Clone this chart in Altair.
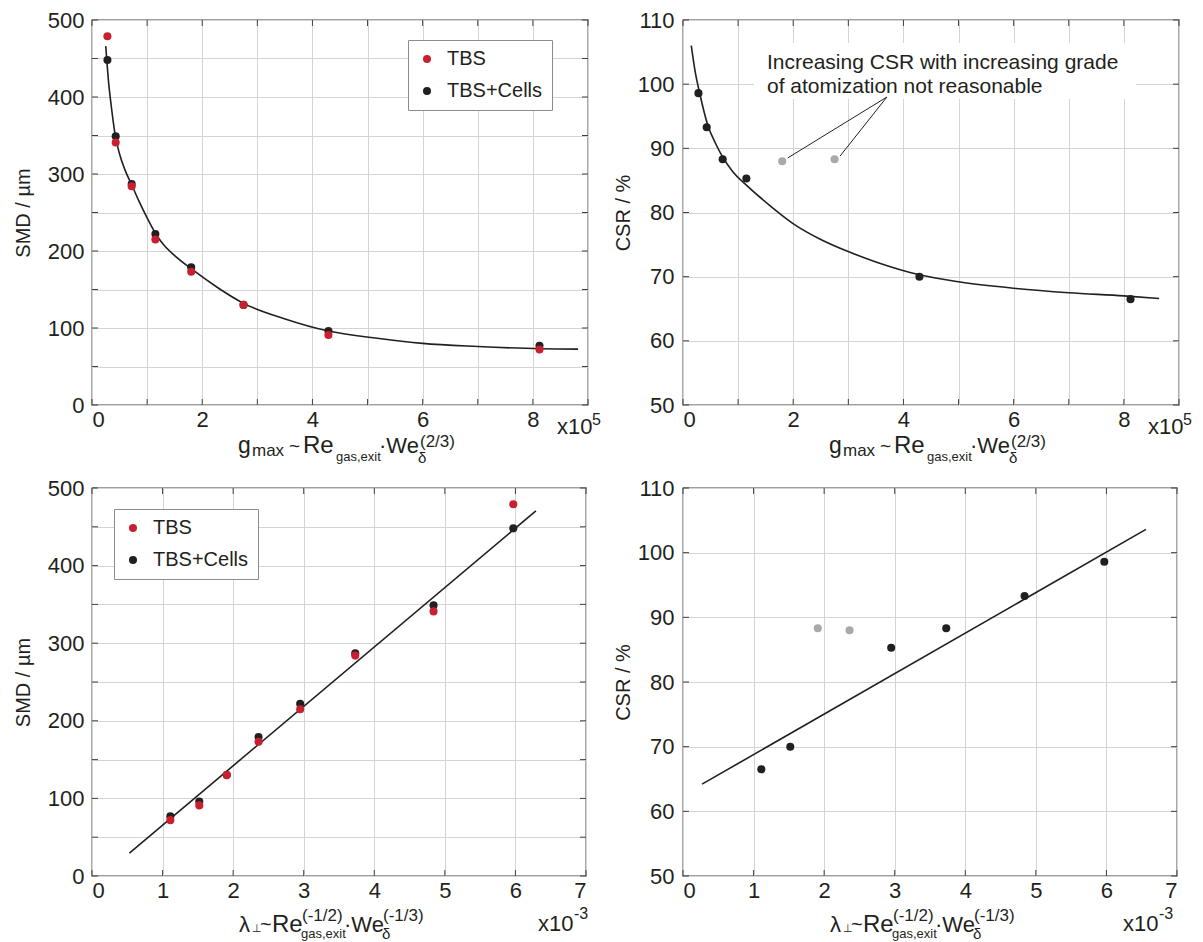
import altair as alt
import pandas as pd

# ---------------- data ----------------
g_vals = [0.28, 0.43, 0.72, 1.15, 1.80, 2.75, 4.29, 8.12]          # g_max  (x1e5)
lam_vals = [5.97, 4.84, 3.73, 2.95, 2.36, 1.91, 1.52, 1.11]        # lambda (x1e-3)
smd_tbs = [479, 341, 284, 215, 173, 130, 91, 72]                   # SMD / um, TBS
smd_cells = [448, 349, 287, 222, 179, 130, 96, 77]                 # SMD / um, TBS+Cells
csr_vals = [98.6, 93.3, 88.3, 85.3, 88.0, 88.3, 70.0, 66.5]        # CSR / %
csr_valid = [True, True, True, True, False, False, True, True]

series_names = ["TBS", "TBS+Cells"]

fit_smd_g_x = [0.25, 0.27, 0.30, 0.35, 0.42, 0.50, 0.60, 0.72, 0.85, 1.00, 1.15, 1.30, 1.50,
               1.80, 2.29, 2.75, 3.49, 4.29, 5.14, 6.00, 7.00, 8.14, 8.82]
fit_smd_g_y = [466, 446, 420, 388, 351, 326, 305, 286, 265, 243, 223, 208, 194,
               177, 152, 132, 112, 96, 87, 80, 76, 73, 72.5]
fit_csr_g_x = [0.15, 0.22, 0.30, 0.45, 0.60, 0.73, 0.90, 1.16, 1.56, 2.01, 2.50, 3.03,
               3.50, 4.29, 5.00, 6.00, 7.00, 8.00, 8.64]
fit_csr_g_y = [106.0, 102.0, 98.7, 93.6, 90.6, 88.5, 86.4, 84.2, 81.2, 78.2, 75.8, 73.8,
               72.3, 70.3, 69.2, 68.2, 67.5, 67.0, 66.6]
fit_smd_lam_x = [0.53, 6.29]
fit_smd_lam_y = [29.5, 470.5]
fit_csr_lam_x = [0.27, 6.56]
fit_csr_lam_y = [64.2, 103.6]

# annotation (top right panel)
annot_lines = ["Increasing CSR with increasing grade", "of atomization not reasonable"]
leader_x_from = [3.70, 3.70]
leader_y_from = [98.0, 98.0]
leader_x_to = [1.90, 2.85]
leader_y_to = [88.5, 88.8]

# ticks / gridlines
tick_g = list(range(0, 10))
tick_lam = list(range(0, 8))
tick_smd = list(range(0, 501, 50))
tick_csr = list(range(50, 111, 10))

# ---------------- style ----------------
FONT = "Liberation Sans, Arial, Helvetica, sans-serif"
TXT = "#231f20"
RED = "#c8202e"
BLK = "#231f20"
GRY = "#a7a9ac"
GRID = "#d4d4d4"
TICK = "#404040"

W_TOP, H_TOP = 496, 385
W_BOT, H_BOT = 494, 388


def frag(text, x, y, size):
    return alt.Chart(alt.Data(values=[{"t": text}])).mark_text(
        font=FONT, fontSize=size, color=TXT, align="left", baseline="alphabetic"
    ).encode(x=alt.value(x), y=alt.value(y), text="t:N")


def enc(field, ch, scale, axis):
    if ch == "x":
        return alt.X(field, type="quantitative", scale=scale, axis=axis)
    return alt.Y(field, type="quantitative", scale=scale, axis=axis)


def ticks(xvals, yvals, xs, ys, ax, ay, W, H, L=6):
    dx = pd.DataFrame({"x": xvals})
    dy = pd.DataFrame({"y": yvals})
    bx = alt.Chart(dx).mark_rule(color=TICK, strokeWidth=1)
    by = alt.Chart(dy).mark_rule(color=TICK, strokeWidth=1)
    X = enc("x", "x", xs, ax)
    Y = enc("y", "y", ys, ay)
    return [
        bx.encode(x=X, y=alt.value(H), y2=alt.value(H - L)),
        bx.encode(x=X, y=alt.value(0), y2=alt.value(L)),
        by.encode(y=Y, x=alt.value(0), x2=alt.value(L)),
        by.encode(y=Y, x=alt.value(W), x2=alt.value(W - L)),
    ]


def legend(lx, ly):
    return alt.Legend(
        orient="none", legendX=lx, legendY=ly, title=None,
        fillColor="white", strokeColor="#8c8c8c", padding=9,
        labelFont=FONT, labelFontSize=20, labelColor=TXT, labelOffset=10,
        symbolType="circle", symbolSize=65, symbolStrokeWidth=0, symbolOpacity=1,
        rowPadding=12,
    )


def g_title(H):
    return [
        frag("g", 146, H + 48, 23),
        frag("max", 160, H + 51, 17),
        frag("~", 197, H + 47, 19),
        frag("Re", 211, H + 48, 24),
        frag("gas,exit", 244, H + 56, 13),
        frag("\u00b7We", 287, H + 48, 22),
        frag("\u03b4", 326, H + 58, 15),
        frag("(2/3)", 328, H + 42, 17),
        frag("x10", 465, H + 29, 22),
        frag("5", 500, H + 20, 16),
    ]


def lam_title(H, xoff):
    return [
        frag("\u03bb", 147, H + 56, 22),
        frag("\u22a5", 160, H + 56, 11),
        frag("~", 168, H + 55, 20),
        frag("Re", 180, H + 56, 24),
        frag("(-1/2)", 210, H + 45, 17),
        frag("gas,exit", 209, H + 62, 13),
        frag("\u00b7We", 252, H + 56, 22),
        frag("\u03b4", 290, H + 63, 15),
        frag("(-1/3)", 291, H + 45, 17),
        frag("x10", xoff, H + 55, 22),
        frag("-3", xoff + 36, H + 43, 16),
    ]


# scales
xs_g = alt.Scale(domain=[0, 9], nice=False, zero=False)
xs_lam = alt.Scale(domain=[0, 7], nice=False, zero=False)
ys_smd = alt.Scale(domain=[0, 500], nice=False, zero=False)
ys_csr = alt.Scale(domain=[50, 110], nice=False, zero=False)

ax_g = alt.Axis(values=tick_g, title=None, grid=True, labelOverlap=False,
                labelExpr="datum.value % 2 === 0 ? datum.label : ''")
ax_lam = alt.Axis(values=tick_lam, title=None, grid=True, labelOverlap=False)
ay_smd = alt.Axis(values=tick_smd, title="SMD / \u00b5m", grid=True, labelOverlap=False,
                  labelExpr="datum.value % 100 === 0 ? datum.label : ''",
                  titlePadding=14, labelPadding=8)
ay_csr = alt.Axis(values=tick_csr, title="CSR / %", grid=True, labelOverlap=False,
                  titlePadding=4, labelPadding=9)


def smd_frame(xvals):
    rows = [{"x": x, "y": v, "series": "TBS+Cells"} for x, v in zip(xvals, smd_cells)]
    rows += [{"x": x, "y": v, "series": "TBS"} for x, v in zip(xvals, smd_tbs)]
    return pd.DataFrame(rows)


def csr_frame(xvals, valid):
    return pd.DataFrame({"x": [x for x, ok in zip(xvals, csr_valid) if ok == valid],
                         "y": [c for c, ok in zip(csr_vals, csr_valid) if ok == valid]})


color_smd = dict(scale=alt.Scale(domain=series_names, range=[RED, BLK]))


def smd_panel(xvals, fx, fy, xs, ax, ticks_x, W, H, lx, ly, title_layers, interp):
    X = enc("x", "x", xs, ax)
    Y = enc("y", "y", ys_smd, ay_smd)
    line = alt.Chart(pd.DataFrame({"x": fx, "y": fy})).mark_line(
        color=BLK, strokeWidth=1.6, interpolate=interp).encode(x=X, y=Y)
    pts = alt.Chart(smd_frame(xvals)).mark_circle(size=65, opacity=1).encode(
        x=X, y=Y, color=alt.Color("series:N", legend=legend(lx, ly), **color_smd))
    return alt.layer(line, pts, *ticks(ticks_x, tick_smd, xs, ys_smd, ax, ay_smd, W, H),
                     *title_layers).properties(width=W, height=H)


def csr_panel(xvals, fx, fy, xs, ax, ticks_x, W, H, extra, title_layers, interp):
    X = enc("x", "x", xs, ax)
    Y = enc("y", "y", ys_csr, ay_csr)
    line = alt.Chart(pd.DataFrame({"x": fx, "y": fy})).mark_line(
        color=BLK, strokeWidth=1.6, interpolate=interp).encode(x=X, y=Y)
    ok = alt.Chart(csr_frame(xvals, True)).mark_circle(size=65, opacity=1, color=BLK).encode(x=X, y=Y)
    bad = alt.Chart(csr_frame(xvals, False)).mark_circle(size=65, opacity=1, color=GRY).encode(x=X, y=Y)
    layers = [line] + extra(X, Y) + [ok, bad]
    return alt.layer(*layers, *ticks(ticks_x, tick_csr, xs, ys_csr, ax, ay_csr, W, H),
                     *title_layers).properties(width=W, height=H)


def annotation(X, Y):
    box = alt.Chart(alt.Data(values=[{}])).mark_rect(color="white").encode(
        x=alt.value(71), x2=alt.value(453), y=alt.value(23), y2=alt.value(79))
    lead = alt.Chart(pd.DataFrame({"x": leader_x_from, "y": leader_y_from,
                                   "x2": leader_x_to, "y2": leader_y_to})).mark_rule(
        color=BLK, strokeWidth=1).encode(x=X, y=Y, x2="x2:Q", y2="y2:Q")
    txt = [frag(annot_lines[0], 84, 49, 21), frag(annot_lines[1], 84, 73, 21)]
    return [box, lead] + txt


tl = smd_panel(g_vals, fit_smd_g_x, fit_smd_g_y, xs_g, ax_g, tick_g, W_TOP, H_TOP,
               316, 20, g_title(H_TOP), "monotone")
tr = csr_panel(g_vals, fit_csr_g_x, fit_csr_g_y, xs_g, ax_g, tick_g, W_TOP, H_TOP,
               annotation, g_title(H_TOP), "monotone")
bl = smd_panel(lam_vals, fit_smd_lam_x, fit_smd_lam_y, xs_lam, ax_lam, tick_lam, W_BOT, H_BOT,
               22, 21, lam_title(H_BOT, 446), "linear")
br = csr_panel(lam_vals, fit_csr_lam_x, fit_csr_lam_y, xs_lam, ax_lam, tick_lam, W_BOT, H_BOT,
               lambda X, Y: [], lam_title(H_BOT, 440), "linear")

chart = alt.concat(
    tl, tr, bl, br, columns=2, spacing={"row": 83, "column": 95}, bounds="flush"
).resolve_scale(color="independent").properties(
    padding={"left": 4, "top": 0, "right": 2, "bottom": 2}
).configure_view(
    stroke=TICK, strokeWidth=1.3
).configure_axis(
    labelFont=FONT, labelFontSize=22, labelColor=TXT,
    titleFont=FONT, titleFontSize=20, titleColor=TXT, titleFontWeight="normal",
    gridColor=GRID, gridWidth=1, domain=False, ticks=False,
).configure_axisX(labelPadding=4)

chart.save("out.html", embed_options={"renderer": "svg", "actions": False})
